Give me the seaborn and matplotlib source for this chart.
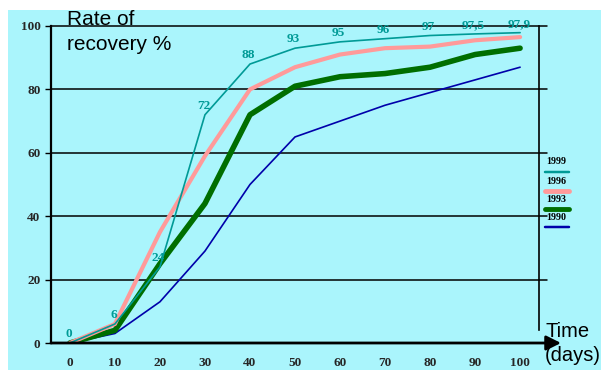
import matplotlib
matplotlib.use("Agg")
import matplotlib.pyplot as plt
import matplotlib.patches as mpatches
from matplotlib.lines import Line2D
import seaborn as sns
import pandas as pd

# Recovery curves, percent recovered against days
days = [0, 10, 20, 30, 40, 50, 60, 70, 80, 90, 100]
rate_1999 = [0, 6, 24, 72, 88, 93, 95, 96, 97, 97.5, 97.9]
rate_1996 = [0, 6, 35, 59, 80, 87, 91, 93, 93.5, 95.5, 96.5]
rate_1993 = [0, 4, 25, 44, 72, 81, 84, 85, 87, 91, 93]
rate_1990 = [0, 3, 13, 29, 50, 65, 70, 75, 79, 83, 87]
labels_1999 = ["0", "6", "24", "72", "88", "93", "95", "96", "97", "97,5", "97,9"]
years = ["1999", "1996", "1993", "1990"]
y_ticks = [0, 20, 40, 60, 80, 100]

series = {"1999": rate_1999, "1996": rate_1996, "1993": rate_1993, "1990": rate_1990}
df = pd.DataFrame(
    [(y, d, v) for y in years for d, v in zip(days, series[y])],
    columns=["year", "days", "rate"],
)

colors = {"1999": "#009a96", "1996": "#ff9a9a", "1993": "#006e00", "1990": "#0000aa"}
widths = {"1999": 1.2, "1996": 3.0, "1993": 4.0, "1990": 1.2}

sns.set_theme(style="white")
plt.rcParams["font.family"] = ["Liberation Serif", "DejaVu Serif"]

bg = "#aaf5fc"
fig = plt.figure(figsize=(6.01, 3.70), dpi=100, facecolor="white")
fig.patches.append(mpatches.Rectangle((8 / 601, 0), 1, 360 / 370,
                                      transform=fig.transFigure, facecolor=bg,
                                      edgecolor="none", zorder=-10))
ax = fig.add_axes([51 / 601, 27 / 370, 488 / 601, 317 / 370])
ax.set_facecolor(bg)
ax.set_zorder(1)

# Horizontal grid, running a little past the right frame
for yv in y_ticks[1:]:
    ax.plot([-4.2, 106], [yv, yv], color="black", lw=1.1, clip_on=False, zorder=1)

for yr in ["1990", "1993", "1996", "1999"]:
    sub = df[df["year"] == yr]
    sns.lineplot(data=sub, x="days", y="rate", ax=ax, color=colors[yr],
                 lw=widths[yr], legend=False, zorder=3,
                 solid_capstyle="round", solid_joinstyle="round")

for d, v, s in zip(days, rate_1999, labels_1999):
    ax.annotate(s, (d, v), xytext=(-1, 2), textcoords="offset points",
                ha="center", va="bottom", color=colors["1999"],
                fontsize=9.5, fontweight="bold", zorder=5)

ax.set_xlim(-4.2, 104.2)
ax.set_ylim(0, 100)
ax.set_xticks(days)
ax.set_yticks(y_ticks)
ax.set_xlabel("")
ax.set_ylabel("")
for lab in ax.get_xticklabels() + ax.get_yticklabels():
    lab.set_fontweight("bold")
    lab.set_fontsize(9.5)
ax.tick_params(axis="y", direction="out", length=4.5, width=1, pad=3,
               left=True, color="black")
ax.tick_params(axis="x", length=0, pad=10)

for side in ["top", "bottom"]:
    ax.spines[side].set_visible(False)
ax.spines["left"].set_color("black")
ax.spines["left"].set_linewidth(1.6)
ax.spines["right"].set_color("black")
ax.spines["right"].set_linewidth(1.2)
ax.spines["right"].set_bounds(4, 100)

# Time axis drawn as an arrow
ax.annotate("", xy=(1.045, 0), xytext=(0, 0), xycoords="axes fraction",
            arrowprops=dict(arrowstyle="-|>", color="black", lw=2,
                            mutation_scale=22, shrinkA=0, shrinkB=0),
            zorder=6, annotation_clip=False)

sans = ["Liberation Sans", "DejaVu Sans"]
fig.text(67 / 601, 1 - 25 / 370, "Rate of", family=sans, fontsize=15,
         va="baseline", ha="left", color="black", zorder=5)
fig.text(67 / 601, 1 - 50 / 370, "recovery %", family=sans, fontsize=15,
         va="baseline", ha="left", color="black", zorder=5)
fig.text(545 / 601, 1 - 337 / 370, "Time", family=sans, fontsize=14.5,
         va="baseline", ha="left", color="black", zorder=5)
fig.text(545 / 601, 1 - 361 / 370, "(days)", family=sans, fontsize=14.5,
         va="baseline", ha="left", color="black", zorder=5)

# Year key on the right
key_y = [(162, 172), (181, 191), (200, 209), (218, 227)]
for yr, (ty, ly) in zip(years, key_y):
    fig.text(546 / 601, 1 - ty / 370, yr, fontsize=7.2, fontweight="bold",
             va="center", ha="left", color="black", zorder=5)
    fig.add_artist(Line2D([545 / 601, 569 / 601], [1 - ly / 370, 1 - ly / 370],
                          transform=fig.transFigure, color=colors[yr],
                          lw=min(widths[yr] + 0.6, 3.5), solid_capstyle="round",
                          zorder=5))

fig.savefig("out.png", dpi=100, facecolor="white")
